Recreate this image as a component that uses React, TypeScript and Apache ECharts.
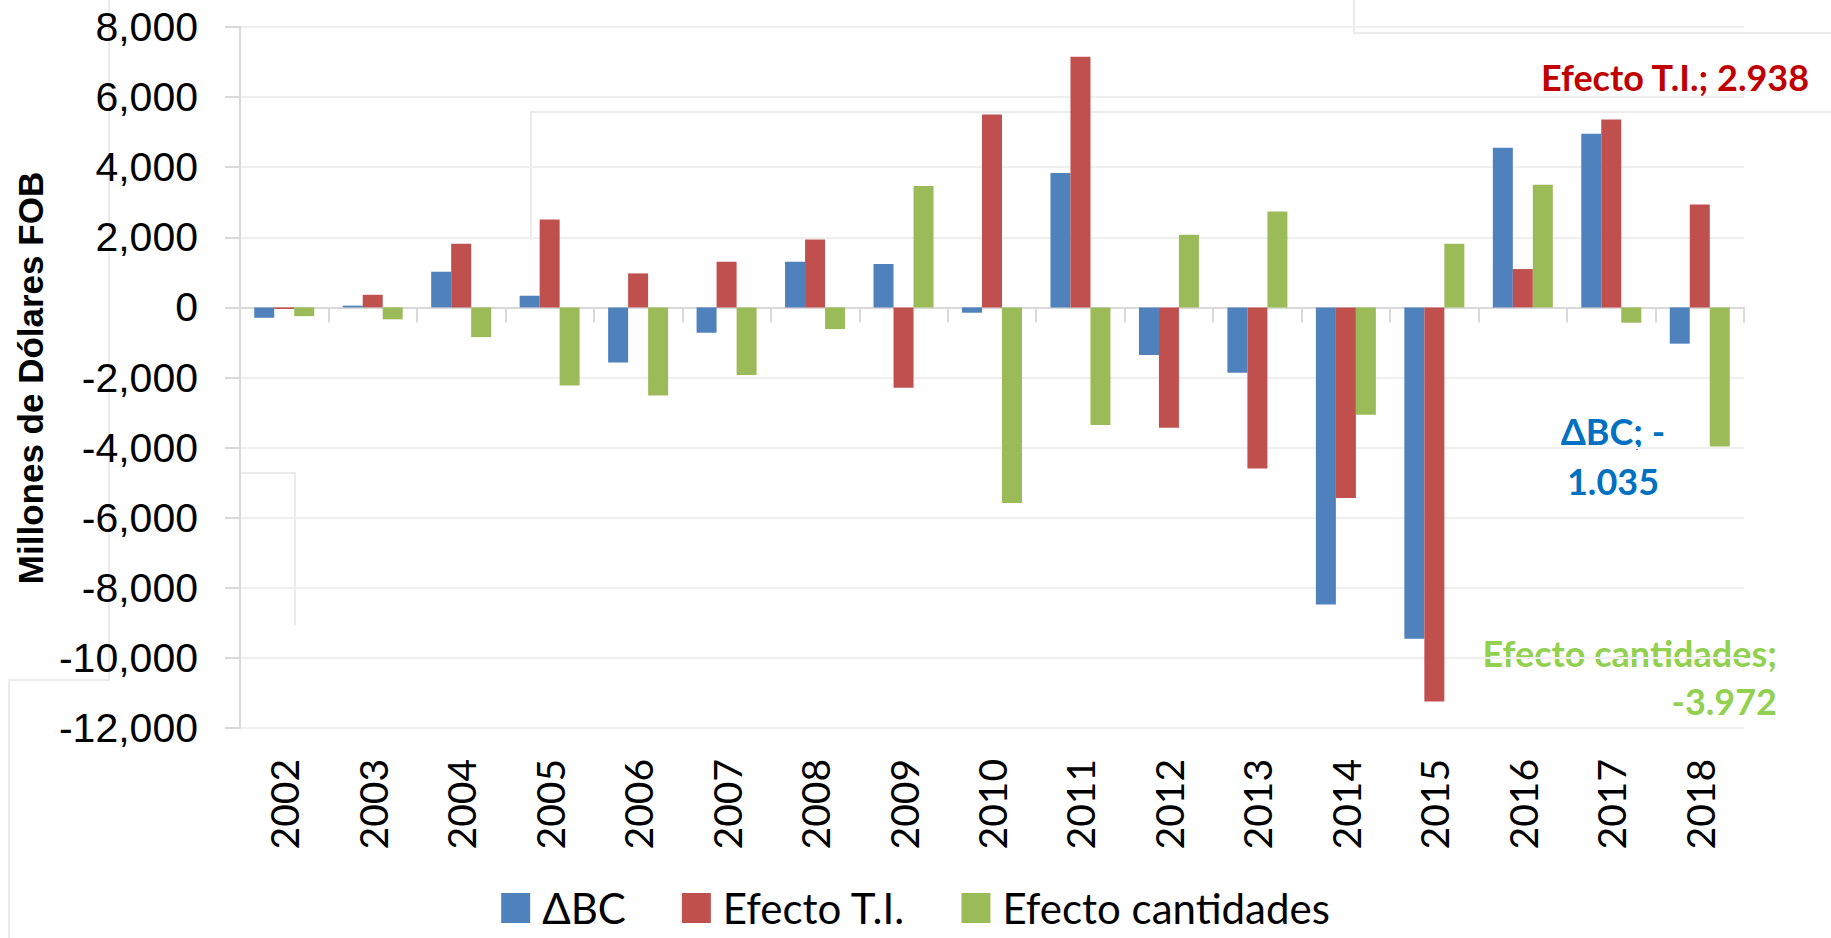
import React, { useEffect, useRef } from "react";
import * as echarts from "echarts";

const categories = ["2002","2003","2004","2005","2006","2007","2008","2009","2010","2011","2012","2013","2014","2015","2016","2017","2018"];
const deltaBC = [-295, 50, 1018, 333, -1569, -723, 1304, 1236, -152, 3832, -1360, -1864, -8473, -9453, 4556, 4955, -1035];
const efectoTI = [-45, 360, 1817, 2511, 970, 1304, 1940, -2292, 5506, 7152, -3433, -4593, -5440, -11241, 1094, 5364, 2938];
const efectoCant = [-250, -340, -847, -2225, -2511, -1931, -619, 3461, -5583, -3357, 2073, 2739, -3063, 1817, 3500, -437, -3972];
const seriesNames = ["ΔBC", "Efecto T.I.", "Efecto cantidades"];
const yMin = -12000;
const yMax = 8000;
const yStep = 2000;

const COLORS = ["#4F81BD", "#C0504D", "#9BBB59"];
const LABEL_COLORS = ["#0070C0", "#C00000", "#92D050"];

const comma = (v: number) => v.toLocaleString("en-US");
const dot = (v: number) => Math.abs(v).toLocaleString("de-DE");

const ghost = (points: number[][]) => ({
  type: "polyline",
  silent: true,
  z: -10,
  shape: { points },
  style: { stroke: "#ebebeb", lineWidth: 2, fill: null },
});

export default function App() {
  const ref = useRef<HTMLDivElement>(null);
  useEffect(() => {
    if (!ref.current) return;
    const chart = echarts.init(ref.current, null, { renderer: "svg" });
    const last = categories.length - 1;
    const bc = deltaBC[last];
    const ti = efectoTI[last];
    const qc = efectoCant[last];
    const mk = (i: number, data: number[]) => ({
      name: seriesNames[i],
      type: "bar",
      xAxisIndex: 0,
      data,
      barWidth: 20,
      barGap: "0%",
      itemStyle: { color: COLORS[i] },
    });
    chart.setOption({
      animation: false,
      backgroundColor: "#ffffff",
      grid: { left: 240, right: 87, top: 27, bottom: 210, containLabel: false },
      legend: {
        data: seriesNames,
        left: "center",
        top: 882,
        itemWidth: 29,
        itemHeight: 30,
        itemGap: 56,
        icon: "rect",
        textStyle: {
          fontFamily: "Lato",
          fontSize: 42,
          lineHeight: 42,
          color: "#000",
          padding: [0, 0, 0, 7],
        },
      },
      xAxis: [
        {
          type: "category",
          data: categories,
          position: "bottom",
          axisLine: { show: true, onZero: true, lineStyle: { color: "#d9d9d9", width: 2 } },
          axisTick: { show: true, length: 15, lineStyle: { color: "#d9d9d9", width: 2 } },
          axisLabel: { show: false },
          splitLine: { show: false },
        },
        {
          type: "category",
          data: categories,
          position: "bottom",
          axisLine: { show: false, onZero: false },
          axisTick: { show: false },
          axisLabel: {
            show: true,
            rotate: 90,
            margin: 31,
            fontFamily: "Lato",
            fontSize: 39,
            color: "#000",
          },
          splitLine: { show: false },
        },
      ],
      yAxis: {
        type: "value",
        min: yMin,
        max: yMax,
        interval: yStep,
        axisLine: { show: true, lineStyle: { color: "#d9d9d9", width: 2 } },
        axisTick: { show: true, length: 15, lineStyle: { color: "#d9d9d9", width: 2 } },
        axisLabel: {
          margin: 42,
          fontFamily: "Liberation Sans",
          fontSize: 41,
          color: "#000",
          formatter: (v: number) => comma(v),
        },
        splitLine: { show: true, lineStyle: { color: "#efefef", width: 2 } },
      },
      graphic: [
        ghost([[531, 240], [531, 112], [1831, 112]]),
        ghost([[1354, 0], [1354, 33], [1831, 33]]),
        ghost([[109, 0], [109, 680], [9, 680], [9, 938]]),
        ghost([[240, 473], [295, 473], [295, 625]]),
        {
          type: "text",
          x: 30,
          y: 378,
          rotation: Math.PI / 2,
          style: {
            text: "Millones de Dólares FOB",
            fill: "#000",
            fontFamily: "Liberation Sans",
            fontWeight: "bold",
            fontSize: 35,
            textAlign: "center",
            textVerticalAlign: "middle",
          },
        },
        {
          type: "text",
          x: 1675,
          y: 77,
          style: {
            text: `${seriesNames[1]}; ${ti < 0 ? "-" : ""}${dot(ti)}`,
            fill: LABEL_COLORS[1],
            fontFamily: "Lato",
            fontWeight: "bold",
            fontSize: 36,
            textAlign: "center",
            textVerticalAlign: "middle",
          },
        },
        {
          type: "text",
          x: 1613,
          y: 456,
          style: {
            text: `${seriesNames[0]}; ${bc < 0 ? "-" : ""}\n${dot(bc)}`,
            fill: LABEL_COLORS[0],
            fontFamily: "Lato",
            fontWeight: "bold",
            fontSize: 36,
            lineHeight: 50,
            textAlign: "center",
            textVerticalAlign: "middle",
          },
        },
        {
          type: "text",
          x: 1777,
          y: 677,
          style: {
            text: `${seriesNames[2]};\n${qc < 0 ? "-" : ""}${dot(qc)}`,
            fill: LABEL_COLORS[2],
            fontFamily: "Lato",
            fontWeight: "bold",
            fontSize: 36,
            lineHeight: 48,
            textAlign: "right",
            textVerticalAlign: "middle",
          },
        },
      ],
      series: [mk(0, deltaBC), mk(1, efectoTI), mk(2, efectoCant)],
    });
    return () => chart.dispose();
  }, []);
  return (
    <div
      ref={ref}
      style={{ position: "absolute", left: 0, top: 0, width: 1831, height: 938 }}
    />
  );
}
